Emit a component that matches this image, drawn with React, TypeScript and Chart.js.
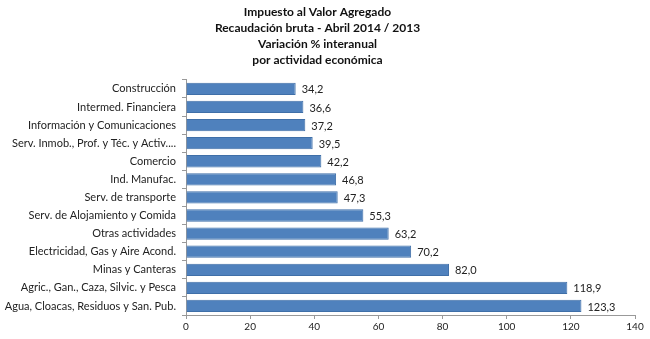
import React, { useEffect, useRef } from "react";
import { Chart, registerables } from "chart.js";

Chart.register(...registerables);

const titleLines = [
  "Impuesto al Valor Agregado",
  "Recaudación bruta - Abril 2014 / 2013",
  "Variación % interanual",
  "por actividad económica",
];

const categories = [
  "Construcción",
  "Intermed. Financiera",
  "Información y Comunicaciones",
  "Serv. Inmob., Prof. y Téc. y Activ....",
  "Comercio",
  "Ind. Manufac.",
  "Serv. de transporte",
  "Serv. de Alojamiento y Comida",
  "Otras actividades",
  "Electricidad, Gas y Aire Acond.",
  "Minas y Canteras",
  "Agric., Gan., Caza, Silvic. y Pesca",
  "Agua, Cloacas, Residuos y San. Pub.",
];

const values = [34.2, 36.6, 37.2, 39.5, 42.2, 46.8, 47.3, 55.3, 63.2, 70.2, 82.0, 118.9, 123.3];

const FONT = "Lato, 'Liberation Sans', sans-serif";

const valueLabels = {
  id: "valueLabels",
  afterDatasetsDraw(chart: any) {
    const ctx = chart.ctx;
    const meta = chart.getDatasetMeta(0);
    ctx.save();
    ctx.font = `11px ${FONT}`;
    ctx.fillStyle = "#222";
    ctx.textBaseline = "middle";
    ctx.textAlign = "left";
    meta.data.forEach((bar: any, i: number) => {
      const txt = values[i].toFixed(1).replace(".", ",");
      ctx.fillText(txt, bar.x + 6, bar.y + 1);
    });
    ctx.restore();
  },
};

export default function App() {
  const ref = useRef<HTMLCanvasElement>(null);
  useEffect(() => {
    document.body.style.margin = "0";
    const chart = new Chart(ref.current!, {
      type: "bar",
      data: {
        labels: categories,
        datasets: [
          {
            data: values,
            backgroundColor: "#4F81BD",
            borderColor: "#3F6FA8",
            borderWidth: 1,
            barPercentage: 0.68,
            categoryPercentage: 1,
          },
        ],
      },
      options: {
        indexAxis: "y",
        responsive: false,
        animation: false,
        layout: { padding: { left: 0, right: 15, top: 0, bottom: 4 } },
        plugins: {
          legend: { display: false },
          tooltip: { enabled: false },
          title: {
            display: true,
            text: titleLines,
            color: "#111",
            font: { family: FONT, size: 12, weight: "bold", lineHeight: 1.33 },
            padding: { top: 4, bottom: 12 },
          },
        },
        scales: {
          x: {
            min: 0,
            max: 140,
            ticks: { stepSize: 20, color: "#222", font: { family: FONT, size: 10 }, padding: 2 },
            grid: { display: true, drawOnChartArea: false, tickLength: 4, color: "#999" },
            border: { color: "#999" },
          },
          y: {
            afterFit(scale: any) {
              scale.width = 186;
            },
            ticks: { color: "#222", font: { family: FONT, size: 11 }, padding: 6 },
            grid: { display: true, drawOnChartArea: false, offset: true, tickLength: 4, color: "#999" },
            border: { color: "#999" },
          },
        },
      },
      plugins: [valueLabels],
    });
    return () => chart.destroy();
  }, []);
  return (
    <div style={{ width: 650, height: 339, background: "#fff" }}>
      <canvas ref={ref} width={650} height={339} />
    </div>
  );
}
